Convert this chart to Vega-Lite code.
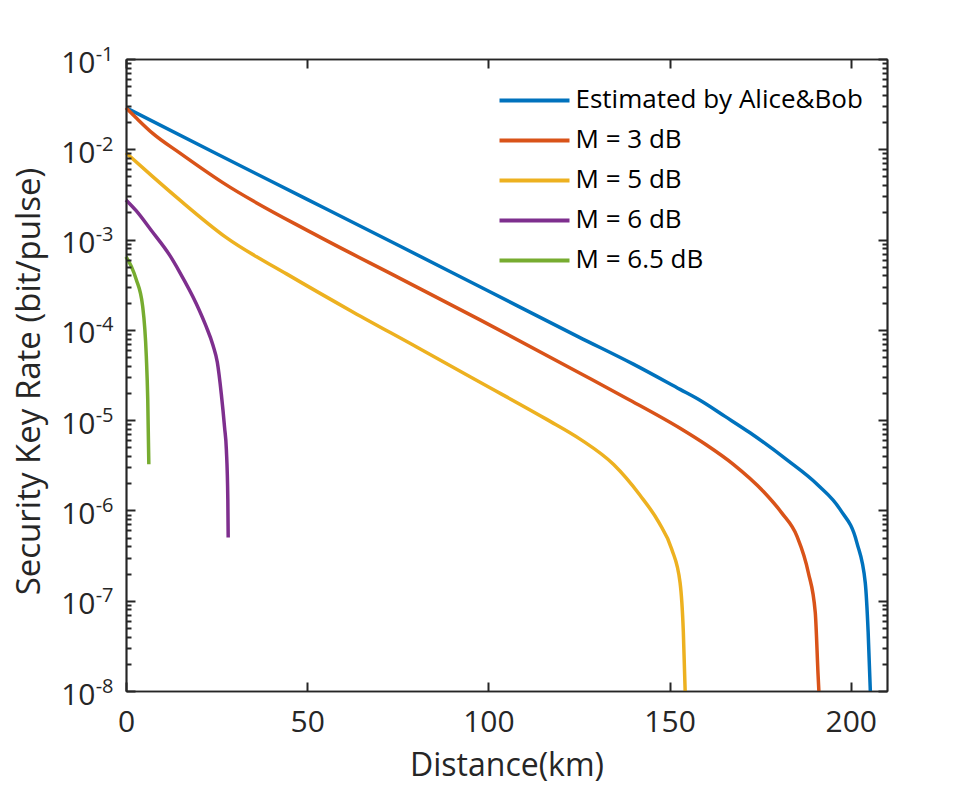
{
  "$schema": "https://vega.github.io/schema/vega-lite/v6.json",
  "autosize": {"type": "none"},
  "padding": {"left": 126, "top": 59, "right": 93, "bottom": 101},
  "width": 761,
  "height": 632,
  "background": "white",
  "config": {
    "view": {"stroke": null},
    "font": "Open Sans",
    "axis": {
      "domainColor": "#262626",
      "domainWidth": 1.5,
      "ticks": true,
      "tickColor": "#262626",
      "tickOpacity": 1,
      "tickWidth": 2,
      "labelColor": "#262626",
      "titleColor": "#262626",
      "labelFont": "Open Sans",
      "titleFont": "Open Sans",
      "titleFontWeight": "normal",
      "grid": false,
      "labelOverlap": false,
      "labelBound": false,
      "labelFlush": false
    }
  },
  "data": {
    "values": [
      {"series": "Estimated by Alice&Bob", "distance": 0, "rate": 2.88e-2},
      {"series": "Estimated by Alice&Bob", "distance": 25, "rate": 8.91e-3},
      {"series": "Estimated by Alice&Bob", "distance": 50, "rate": 2.79e-3},
      {"series": "Estimated by Alice&Bob", "distance": 75, "rate": 8.71e-4},
      {"series": "Estimated by Alice&Bob", "distance": 100, "rate": 2.69e-4},
      {"series": "Estimated by Alice&Bob", "distance": 125, "rate": 8.32e-5},
      {"series": "Estimated by Alice&Bob", "distance": 140, "rate": 4.17e-5},
      {"series": "Estimated by Alice&Bob", "distance": 152.9, "rate": 2.19e-5},
      {"series": "Estimated by Alice&Bob", "distance": 158.4, "rate": 1.66e-5},
      {"series": "Estimated by Alice&Bob", "distance": 165.3, "rate": 1.1e-5},
      {"series": "Estimated by Alice&Bob", "distance": 172.2, "rate": 7.24e-6},
      {"series": "Estimated by Alice&Bob", "distance": 182.4, "rate": 3.63e-6},
      {"series": "Estimated by Alice&Bob", "distance": 190.7, "rate": 1.95e-6},
      {"series": "Estimated by Alice&Bob", "distance": 197.1, "rate": 1.02e-6},
      {"series": "Estimated by Alice&Bob", "distance": 201.7, "rate": 4.37e-7},
      {"series": "Estimated by Alice&Bob", "distance": 204, "rate": 1.58e-7},
      {"series": "Estimated by Alice&Bob", "distance": 204.8, "rate": 4.47e-8},
      {"series": "Estimated by Alice&Bob", "distance": 205.4, "rate": 1e-8},
      {"series": "M = 3 dB", "distance": 0, "rate": 2.88e-2},
      {"series": "M = 3 dB", "distance": 3, "rate": 2.19e-2},
      {"series": "M = 3 dB", "distance": 7.3, "rate": 1.51e-2},
      {"series": "M = 3 dB", "distance": 14.8, "rate": 9.12e-3},
      {"series": "M = 3 dB", "distance": 26.7, "rate": 4.27e-3},
      {"series": "M = 3 dB", "distance": 51.6, "rate": 1.17e-3},
      {"series": "M = 3 dB", "distance": 75.6, "rate": 3.72e-4},
      {"series": "M = 3 dB", "distance": 97.7, "rate": 1.29e-4},
      {"series": "M = 3 dB", "distance": 125.3, "rate": 3.31e-5},
      {"series": "M = 3 dB", "distance": 138.2, "rate": 1.74e-5},
      {"series": "M = 3 dB", "distance": 152.9, "rate": 8.13e-6},
      {"series": "M = 3 dB", "distance": 160, "rate": 5.37e-6},
      {"series": "M = 3 dB", "distance": 167.6, "rate": 3.24e-6},
      {"series": "M = 3 dB", "distance": 175.9, "rate": 1.62e-6},
      {"series": "M = 3 dB", "distance": 181, "rate": 9.33e-7},
      {"series": "M = 3 dB", "distance": 185.2, "rate": 5.13e-7},
      {"series": "M = 3 dB", "distance": 188.3, "rate": 2.04e-7},
      {"series": "M = 3 dB", "distance": 190.2, "rate": 7.41e-8},
      {"series": "M = 3 dB", "distance": 191, "rate": 1.45e-8},
      {"series": "M = 3 dB", "distance": 191.2, "rate": 1e-8},
      {"series": "M = 5 dB", "distance": 0, "rate": 9.12e-3},
      {"series": "M = 5 dB", "distance": 7.3, "rate": 5.01e-3},
      {"series": "M = 5 dB", "distance": 14.8, "rate": 2.75e-3},
      {"series": "M = 5 dB", "distance": 27.7, "rate": 1.05e-3},
      {"series": "M = 5 dB", "distance": 44.3, "rate": 4.17e-4},
      {"series": "M = 5 dB", "distance": 62.6, "rate": 1.58e-4},
      {"series": "M = 5 dB", "distance": 80.2, "rate": 6.46e-5},
      {"series": "M = 5 dB", "distance": 97.7, "rate": 2.63e-5},
      {"series": "M = 5 dB", "distance": 116.1, "rate": 1.02e-5},
      {"series": "M = 5 dB", "distance": 125.3, "rate": 6.17e-6},
      {"series": "M = 5 dB", "distance": 134.5, "rate": 3.24e-6},
      {"series": "M = 5 dB", "distance": 141.8, "rate": 1.48e-6},
      {"series": "M = 5 dB", "distance": 147, "rate": 7.41e-7},
      {"series": "M = 5 dB", "distance": 150.6, "rate": 3.72e-7},
      {"series": "M = 5 dB", "distance": 152.9, "rate": 1.58e-7},
      {"series": "M = 5 dB", "distance": 153.8, "rate": 4.47e-8},
      {"series": "M = 5 dB", "distance": 154.3, "rate": 1e-8},
      {"series": "M = 6 dB", "distance": 0, "rate": 2.75e-3},
      {"series": "M = 6 dB", "distance": 2.8, "rate": 2.09e-3},
      {"series": "M = 6 dB", "distance": 7, "rate": 1.26e-3},
      {"series": "M = 6 dB", "distance": 12, "rate": 6.76e-4},
      {"series": "M = 6 dB", "distance": 14.8, "rate": 4.37e-4},
      {"series": "M = 6 dB", "distance": 19.4, "rate": 1.95e-4},
      {"series": "M = 6 dB", "distance": 22, "rate": 1.12e-4},
      {"series": "M = 6 dB", "distance": 24, "rate": 6.76e-5},
      {"series": "M = 6 dB", "distance": 25.2, "rate": 4.37e-5},
      {"series": "M = 6 dB", "distance": 26.3, "rate": 1.95e-5},
      {"series": "M = 6 dB", "distance": 27.2, "rate": 8.32e-6},
      {"series": "M = 6 dB", "distance": 27.7, "rate": 4.68e-6},
      {"series": "M = 6 dB", "distance": 28.1, "rate": 1.32e-6},
      {"series": "M = 6 dB", "distance": 28.2, "rate": 5.01e-7},
      {"series": "M = 6.5 dB", "distance": 0, "rate": 6.46e-4},
      {"series": "M = 6.5 dB", "distance": 1.5, "rate": 5.01e-4},
      {"series": "M = 6.5 dB", "distance": 2.8, "rate": 3.63e-4},
      {"series": "M = 6.5 dB", "distance": 4.6, "rate": 1.82e-4},
      {"series": "M = 6.5 dB", "distance": 5.6, "rate": 5.13e-5},
      {"series": "M = 6.5 dB", "distance": 6, "rate": 1.7e-5},
      {"series": "M = 6.5 dB", "distance": 6.3, "rate": 3.24e-6}
    ]
  },
  "resolve": {"axis": {"x": "independent", "y": "independent"}},
  "layer": [
    {
      "mark": {"type": "line", "strokeWidth": 3.5, "interpolate": "monotone"},
      "encoding": {
        "x": {
          "field": "distance", "type": "quantitative",
          "scale": {"domain": [0, 210], "nice": false, "zero": false},
          "axis": {
            "orient": "bottom", "values": [0, 50, 100, 150, 200],
            "ticks": false, "tickSize": 0, "labelPadding": 16, "labelFontSize": 30,
            "title": "Distance(km)", "titleFontSize": 32,
            "titleY": 84, "titleBaseline": "alphabetic"
          }
        },
        "y": {
          "field": "rate", "type": "quantitative",
          "scale": {"type": "log", "domain": [1e-8, 1e-1], "nice": false},
          "axis": {
            "orient": "left",
            "values": [1e-8, 1e-7, 1e-6, 1e-5, 1e-4, 1e-3, 1e-2, 1e-1],
            "labelExpr": "'10'",
            "ticks": false, "tickSize": 0, "labelPadding": 31, "labelFontSize": 30,
            "labelBaseline": "middle", "labelOffset": 4,
            "title": "Security Key Rate (bit/pulse)", "titleFontSize": 33,
            "titleX": -97, "titleY": 322, "titleBaseline": "middle"
          }
        },
        "color": {
          "field": "series", "type": "nominal",
          "sort": ["Estimated by Alice&Bob", "M = 3 dB", "M = 5 dB", "M = 6 dB", "M = 6.5 dB"],
          "scale": {
            "domain": ["Estimated by Alice&Bob", "M = 3 dB", "M = 5 dB", "M = 6 dB", "M = 6.5 dB"],
            "range": ["#0072BD", "#D95319", "#EDB120", "#7E2F8E", "#77AC30"]
          },
          "legend": {
            "title": null,
            "orient": "none",
            "legendX": 373.5,
            "legendY": 28.4,
            "padding": 0,
            "symbolType": "M-10,0H10",
            "symbolSize": 49,
            "symbolStrokeWidth": 4,
            "symbolOffset": 22,
            "labelOffset": 28,
            "labelFontSize": 26,
            "labelFont": "Open Sans",
            "labelColor": "#000000",
            "rowPadding": 14,
            "labelLimit": 400
          }
        }
      }
    },
    {
      "mark": {"type": "point", "opacity": 0},
      "encoding": {
        "x": {
          "field": "distance", "type": "quantitative",
          "axis": {"orient": "top", "ticks": false, "labels": false, "title": null}
        },
        "y": {
          "field": "rate", "type": "quantitative",
          "axis": {"orient": "right", "ticks": false, "labels": false, "title": null}
        }
      }
    },
    {
      "mark": {"type": "point", "opacity": 0},
      "encoding": {
        "x": {
          "field": "distance", "type": "quantitative",
          "axis": {
            "orient": "top", "offset": -632, "values": [0, 50, 100, 150, 200],
            "ticks": true, "tickSize": 9, "labelExpr": "''", "domain": true, "title": null, "zindex": 1
          }
        },
        "y": {
          "field": "rate", "type": "quantitative",
          "axis": {
            "orient": "right", "offset": -761,
            "values": [1e-8, 1e-7, 1e-6, 1e-5, 1e-4, 1e-3, 1e-2, 1e-1],
            "ticks": true, "tickSize": 9, "labelExpr": "''", "domain": true, "title": null, "zindex": 1
          }
        }
      }
    },
    {
      "mark": {"type": "point", "opacity": 0},
      "encoding": {
        "x": {
          "field": "distance", "type": "quantitative",
          "axis": {
            "orient": "bottom", "offset": -632, "values": [0, 50, 100, 150, 200],
            "ticks": true, "tickSize": 9, "labelExpr": "''", "domain": true, "title": null, "zindex": 1
          }
        },
        "y": {
          "field": "rate", "type": "quantitative",
          "axis": {
            "orient": "left", "offset": -761,
            "values": [1e-8, 1e-7, 1e-6, 1e-5, 1e-4, 1e-3, 1e-2, 1e-1],
            "ticks": true, "tickSize": 9, "labelExpr": "''", "domain": true, "title": null, "zindex": 1
          }
        }
      }
    },
    {
      "mark": {"type": "point", "opacity": 0},
      "encoding": {
        "x": {"field": "distance", "type": "quantitative", "axis": null},
        "y": {
          "field": "rate", "type": "quantitative",
          "axis": {
            "orient": "right", "offset": -761, "tickCount": 100,
            "values": [2e-8, 3e-8, 4e-8, 5e-8, 6e-8, 7e-8, 8e-8, 9e-8, 2e-7, 3e-7, 4e-7, 5e-7, 6e-7, 7e-7, 8e-7, 9e-7, 2e-6, 3e-6, 4e-6, 5e-6, 6e-6, 7e-6, 8e-6, 9e-6, 2e-5, 3e-5, 4e-5, 5e-5, 6e-5, 7e-5, 8e-5, 9e-5, 2e-4, 3e-4, 4e-4, 5e-4, 6e-4, 7e-4, 8e-4, 9e-4, 2e-3, 3e-3, 4e-3, 5e-3, 6e-3, 7e-3, 8e-3, 9e-3, 2e-2, 3e-2, 4e-2, 5e-2, 6e-2, 7e-2, 8e-2, 9e-2],
            "ticks": true, "tickSize": 5, "labelExpr": "''", "domain": true, "title": null, "zindex": 1
          }
        }
      }
    },
    {
      "mark": {"type": "point", "opacity": 0},
      "encoding": {
        "x": {"field": "distance", "type": "quantitative", "axis": null},
        "y": {
          "field": "rate", "type": "quantitative",
          "axis": {
            "orient": "left", "offset": -761, "tickCount": 100,
            "values": [2e-8, 3e-8, 4e-8, 5e-8, 6e-8, 7e-8, 8e-8, 9e-8, 2e-7, 3e-7, 4e-7, 5e-7, 6e-7, 7e-7, 8e-7, 9e-7, 2e-6, 3e-6, 4e-6, 5e-6, 6e-6, 7e-6, 8e-6, 9e-6, 2e-5, 3e-5, 4e-5, 5e-5, 6e-5, 7e-5, 8e-5, 9e-5, 2e-4, 3e-4, 4e-4, 5e-4, 6e-4, 7e-4, 8e-4, 9e-4, 2e-3, 3e-3, 4e-3, 5e-3, 6e-3, 7e-3, 8e-3, 9e-3, 2e-2, 3e-2, 4e-2, 5e-2, 6e-2, 7e-2, 8e-2, 9e-2],
            "ticks": true, "tickSize": 5, "labelExpr": "''", "domain": true, "title": null, "zindex": 1
          }
        }
      }
    },
    {
      "mark": {"type": "point", "opacity": 0},
      "encoding": {
        "x": {"field": "distance", "type": "quantitative", "axis": null},
        "y": {
          "field": "rate", "type": "quantitative",
          "axis": {
            "orient": "left",
            "values": [1e-8, 1e-7, 1e-6, 1e-5, 1e-4, 1e-3, 1e-2, 1e-1],
            "labelExpr": "'' + round(log(datum.value) / LN10)",
            "ticks": false, "tickSize": 0, "domain": false, "labelPadding": 13,
            "labelFontSize": 20, "labelBaseline": "middle", "labelOffset": -5,
            "title": null
          }
        }
      }
    }
  ]
}
